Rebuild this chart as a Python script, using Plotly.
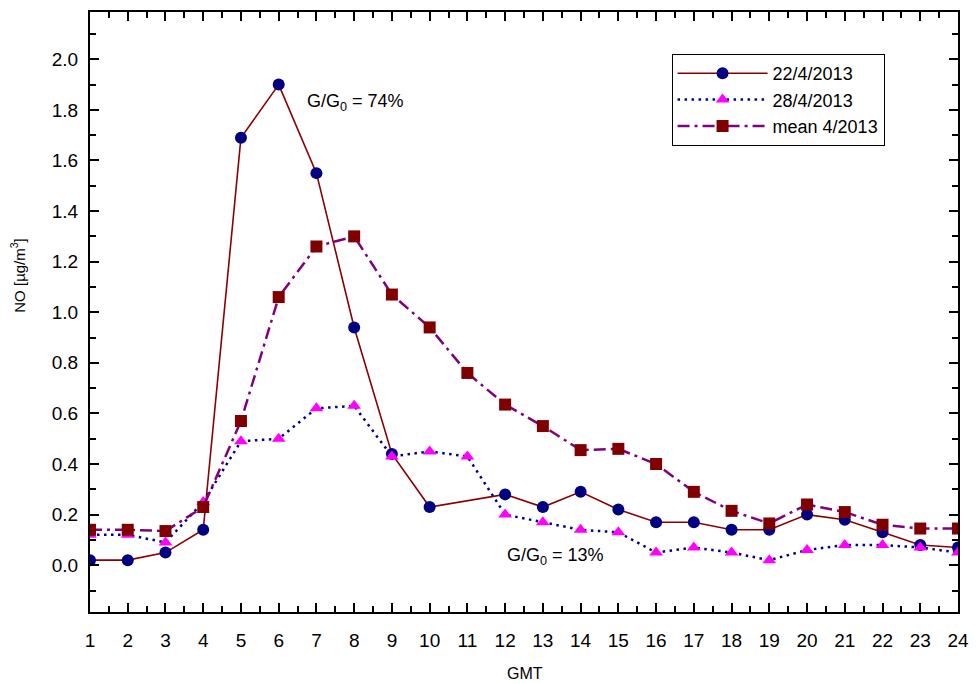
import plotly.graph_objects as go

# Hourly NO concentrations (µg/m³), April 2013
hours = list(range(1, 25))

no_22apr = [0.02, 0.02, 0.05, 0.14, 1.69, 1.90, 1.55, 0.94, 0.44, 0.23, None, 0.28,
            0.23, 0.29, 0.22, 0.17, 0.17, 0.14, 0.14, 0.20, 0.18, 0.13, 0.08, 0.07]
no_28apr = [0.12, 0.12, 0.09, 0.25, 0.49, 0.50, 0.62, 0.63, 0.43, 0.45, 0.43, 0.20,
            0.17, 0.14, 0.13, 0.05, 0.07, 0.05, 0.02, 0.06, 0.08, 0.08, 0.07, 0.05]
no_mean = [0.14, 0.14, 0.135, 0.23, 0.57, 1.06, 1.26, 1.30, 1.07, 0.94, 0.76, 0.635,
           0.55, 0.455, 0.46, 0.40, 0.29, 0.215, 0.165, 0.24, 0.21, 0.16, 0.145, 0.145]

series_names = ["22/4/2013", "28/4/2013", "mean 4/2013"]
ratio_labels = ["G/G<sub>0</sub> = 74%", "G/G<sub>0</sub> = 13%"]

FONT = "Liberation Sans, Arial, sans-serif"

fig = go.Figure()

fig.add_trace(go.Scatter(
    x=hours, y=no_22apr, name=series_names[0], mode="lines+markers",
    connectgaps=True,
    line=dict(color="#8B0000", width=1.6),
    marker=dict(symbol="circle", size=12, color="#000080"),
))
fig.add_trace(go.Scatter(
    x=hours, y=no_28apr, name=series_names[1], mode="lines+markers",
    line=dict(color="#00008B", width=2.5, dash="2.5px,4.5px"),
    marker=dict(symbol="triangle-up", size=12, color="#FF00FF"),
))
fig.add_trace(go.Scatter(
    x=hours, y=no_mean, name=series_names[2], mode="lines+markers",
    line=dict(color="#800080", width=2.5, dash="12px,5px,3px,5px"),
    marker=dict(symbol="square", size=12, color="#800000"),
))

axis_common = dict(
    showline=True, linecolor="black", linewidth=2, mirror="ticks",
    ticks="inside", ticklen=9, tickwidth=1.5, tickcolor="black",
    showgrid=False, zeroline=False,
    tickfont=dict(family=FONT, size=19, color="black"),
)

fig.update_xaxes(
    range=[1, 24], tickmode="linear", tick0=1, dtick=1,
    minor=dict(ticks="inside", ticklen=6, tickwidth=1.5, tickcolor="black",
               dtick=0.5, tick0=1, showgrid=False),
    ticklabelstandoff=10,
    **axis_common,
)
fig.update_yaxes(
    range=[-0.185, 2.187], tickmode="linear", tick0=0, dtick=0.2, tickformat=".1f",
    minor=dict(ticks="inside", ticklen=6, tickwidth=1.5, tickcolor="black",
               dtick=0.1, tick0=0, showgrid=False),
    ticklabelstandoff=6,
    **axis_common,
)

fig.add_annotation(x=6.70, y=1.83, xref="x", yref="y", text=ratio_labels[0],
                   showarrow=False, xanchor="left", yanchor="middle",
                   font=dict(family=FONT, size=18, color="black"))
fig.add_annotation(x=11.99, y=0.035, xref="x", yref="y", text=ratio_labels[1],
                   showarrow=False, xanchor="left", yanchor="middle",
                   font=dict(family=FONT, size=18, color="black"))

# Axis titles
fig.add_annotation(x=0.5006, y=-0.103, xref="paper", yref="paper", text="GMT",
                   showarrow=False, xanchor="center", yanchor="middle",
                   font=dict(family=FONT, size=16, color="black"))
fig.add_annotation(x=-0.0834, y=0.5615, xref="paper", yref="paper",
                   text="NO [µg/m<sup>3</sup>]", textangle=-90,
                   showarrow=False, xanchor="center", yanchor="middle",
                   font=dict(family=FONT, size=15, color="black"))

fig.update_layout(
    width=979, height=684,
    margin=dict(l=90, r=14, t=10, b=72),
    paper_bgcolor="white", plot_bgcolor="white",
    showlegend=True,
    legend=dict(
        x=0.67, y=0.93, xanchor="left", yanchor="top",
        bgcolor="white", bordercolor="black", borderwidth=1,
        font=dict(family=FONT, size=18, color="black"),
        itemwidth=90, tracegroupgap=0,
    ),
)

fig.write_html("out.html")
